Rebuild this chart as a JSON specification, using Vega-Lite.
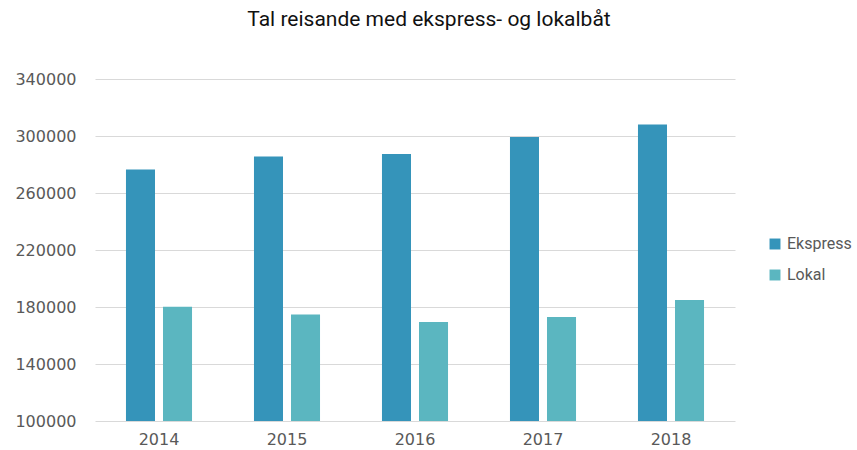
{
  "$schema": "https://vega.github.io/schema/vega-lite/v6.json",
  "width": 640,
  "height": 342,
  "autosize": {"type": "none"},
  "padding": {"left": 95, "top": 79, "right": 122, "bottom": 29},
  "background": "white",
  "title": {
    "text": "Tal reisande med ekspress- og lokalbåt",
    "font": "Roboto",
    "fontSize": 21,
    "fontWeight": "normal",
    "color": "#111111",
    "anchor": "middle",
    "dx": 14,
    "offset": 41
  },
  "data": {
    "values": [
      {"year": "2014", "type": "Ekspress", "value": 276500},
      {"year": "2014", "type": "Lokal", "value": 180200},
      {"year": "2015", "type": "Ekspress", "value": 285700},
      {"year": "2015", "type": "Lokal", "value": 174800},
      {"year": "2016", "type": "Ekspress", "value": 287400},
      {"year": "2016", "type": "Lokal", "value": 169500},
      {"year": "2017", "type": "Ekspress", "value": 299300},
      {"year": "2017", "type": "Lokal", "value": 173000},
      {"year": "2018", "type": "Ekspress", "value": 308100},
      {"year": "2018", "type": "Lokal", "value": 184900}
    ]
  },
  "mark": {"type": "bar", "clip": true},
  "encoding": {
    "x": {
      "field": "year",
      "type": "nominal",
      "scale": {"paddingInner": 0.484, "paddingOuter": 0.242},
      "axis": {
        "title": null,
        "labelAngle": 0,
        "labelFont": "DejaVu Sans",
        "labelFontSize": 16,
        "labelColor": "#595959",
        "labelPadding": 10,
        "ticks": false,
        "domain": false
      }
    },
    "xOffset": {
      "field": "type",
      "type": "nominal",
      "scale": {"paddingInner": 0.216, "paddingOuter": 0}
    },
    "y": {
      "field": "value",
      "type": "quantitative",
      "scale": {"domain": [100000, 340000], "zero": false, "nice": false},
      "axis": {
        "title": null,
        "values": [100000, 140000, 180000, 220000, 260000, 300000, 340000],
        "format": "d",
        "labelFont": "DejaVu Sans",
        "labelFontSize": 16,
        "labelColor": "#595959",
        "labelPadding": 19,
        "ticks": false,
        "domain": false,
        "grid": true,
        "gridColor": "#d9d9d9",
        "gridWidth": 1.2
      }
    },
    "color": {
      "field": "type",
      "type": "nominal",
      "scale": {"domain": ["Ekspress", "Lokal"], "range": ["#3594BA", "#5BB6C0"]},
      "legend": {
        "title": null,
        "orient": "none",
        "legendX": 672,
        "legendY": 157,
        "symbolType": "square",
        "symbolSize": 120,
        "labelFont": "Roboto",
        "labelFontSize": 16,
        "labelColor": "#595959",
        "labelOffset": 4,
        "rowPadding": 15
      }
    }
  },
  "config": {"view": {"stroke": null}}
}
